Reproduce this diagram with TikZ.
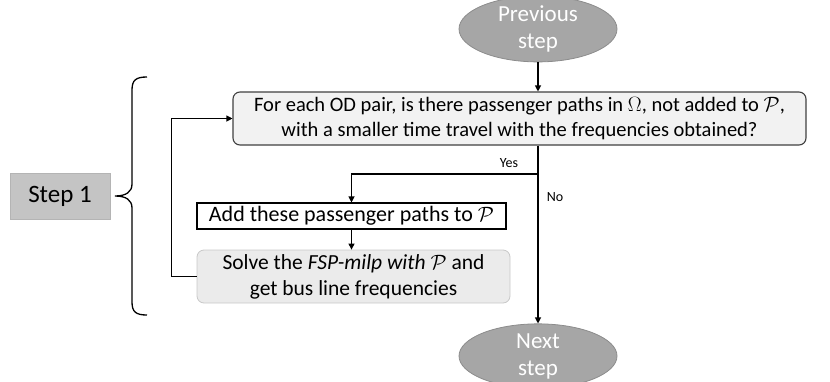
\documentclass[tikz,border=0pt]{standalone}
\usepackage{fontspec}
\setmainfont{Carlito}
\usetikzlibrary{arrows.meta,shapes.geometric}
\definecolor{qfill}{HTML}{F2F2F2}
\definecolor{qdraw}{HTML}{404040}
\definecolor{sfill}{HTML}{EBEBEB}
\definecolor{sdraw}{HTML}{C8C8C8}
\definecolor{efill}{HTML}{A6A6A6}
\definecolor{edraw}{HTML}{8C8C8C}
\definecolor{stfill}{HTML}{C4C4C4}
\definecolor{stdraw}{HTML}{B4B4B4}
\tikzset{
  txt/.style={align=center, inner sep=0pt},
  qbox/.style={txt, font=\fontsize{20.5}{25}\selectfont, draw=qdraw, fill=qfill, rounded corners=7pt, line width=1.1pt},
  addbox/.style={txt, font=\fontsize{22}{26}\selectfont, draw=black, fill=white, line width=1.1pt},
  solvebox/.style={txt, font=\fontsize{21.5}{26}\selectfont, draw=sdraw, fill=sfill, rounded corners=7pt, line width=0.8pt},
  term/.style={txt, font=\fontsize{23}{27}\selectfont, ellipse, draw=edraw, fill=efill, text=white, line width=0.8pt, minimum width=158pt, minimum height=54pt},
  stepbox/.style={txt, font=\fontsize{25}{28}\selectfont, draw=stdraw, fill=stfill, line width=0.8pt, minimum width=100pt, minimum height=46pt},
  conn/.style={line width=1.1pt, -{Triangle[length=6pt,width=6pt]}},
  lab/.style={font=\fontsize{14}{16}\selectfont, inner sep=0pt},
}
\begin{document}
\begin{tikzpicture}[x=1pt,y=-1pt]
\useasboundingbox (0,0) rectangle (830,381);
\node[term] (prev) at (538,29) {Previous\\step};
\node[term] (next) at (538,356) {Next\\step};
\node[qbox, minimum width=573pt, minimum height=53pt] (q) at (519.5,118.5)
  {For each OD pair, is there passenger paths in $\Omega$, not added to $\mathcal{P}$,\\with a smaller time travel with the frequencies obtained?};
\node[addbox, minimum width=309pt, minimum height=26pt] (add) at (351.5,216)
  {Add these passenger paths to $\mathcal{P}$};
\node[solvebox, minimum width=313pt, minimum height=53pt] (solve) at (353.5,276.5)
  {Solve the \textit{FSP-milp with $\mathcal{P}$} and\\get bus line frequencies};
\node[stepbox] (step1) at (60,196) {Step 1};
\coordinate (br) at (538,174);
\draw[conn] (prev.south) -- (prev.south |- q.north);
\draw[conn] (prev.south |- q.south) -- (next.north);
\draw[conn] (br) -| (add.north);
\draw[conn] (add.south) -- (add.south |- solve.north);
\draw[conn] (solve.west) -- ++(-25,0) |- (q.west);
\node[lab] (yes) at (509,163) {Yes};
\node[lab] (no) at (555,197) {No};
\draw[line width=1.3pt] (147,77) .. controls (136,77) and (132,80) .. (132,90) -- (132,184)
  .. controls (132,192) and (126,196) .. (115,196)
  .. controls (126,196) and (132,200) .. (132,208) -- (132,302)
  .. controls (132,312) and (136,315) .. (147,315);
\end{tikzpicture}
\end{document}
